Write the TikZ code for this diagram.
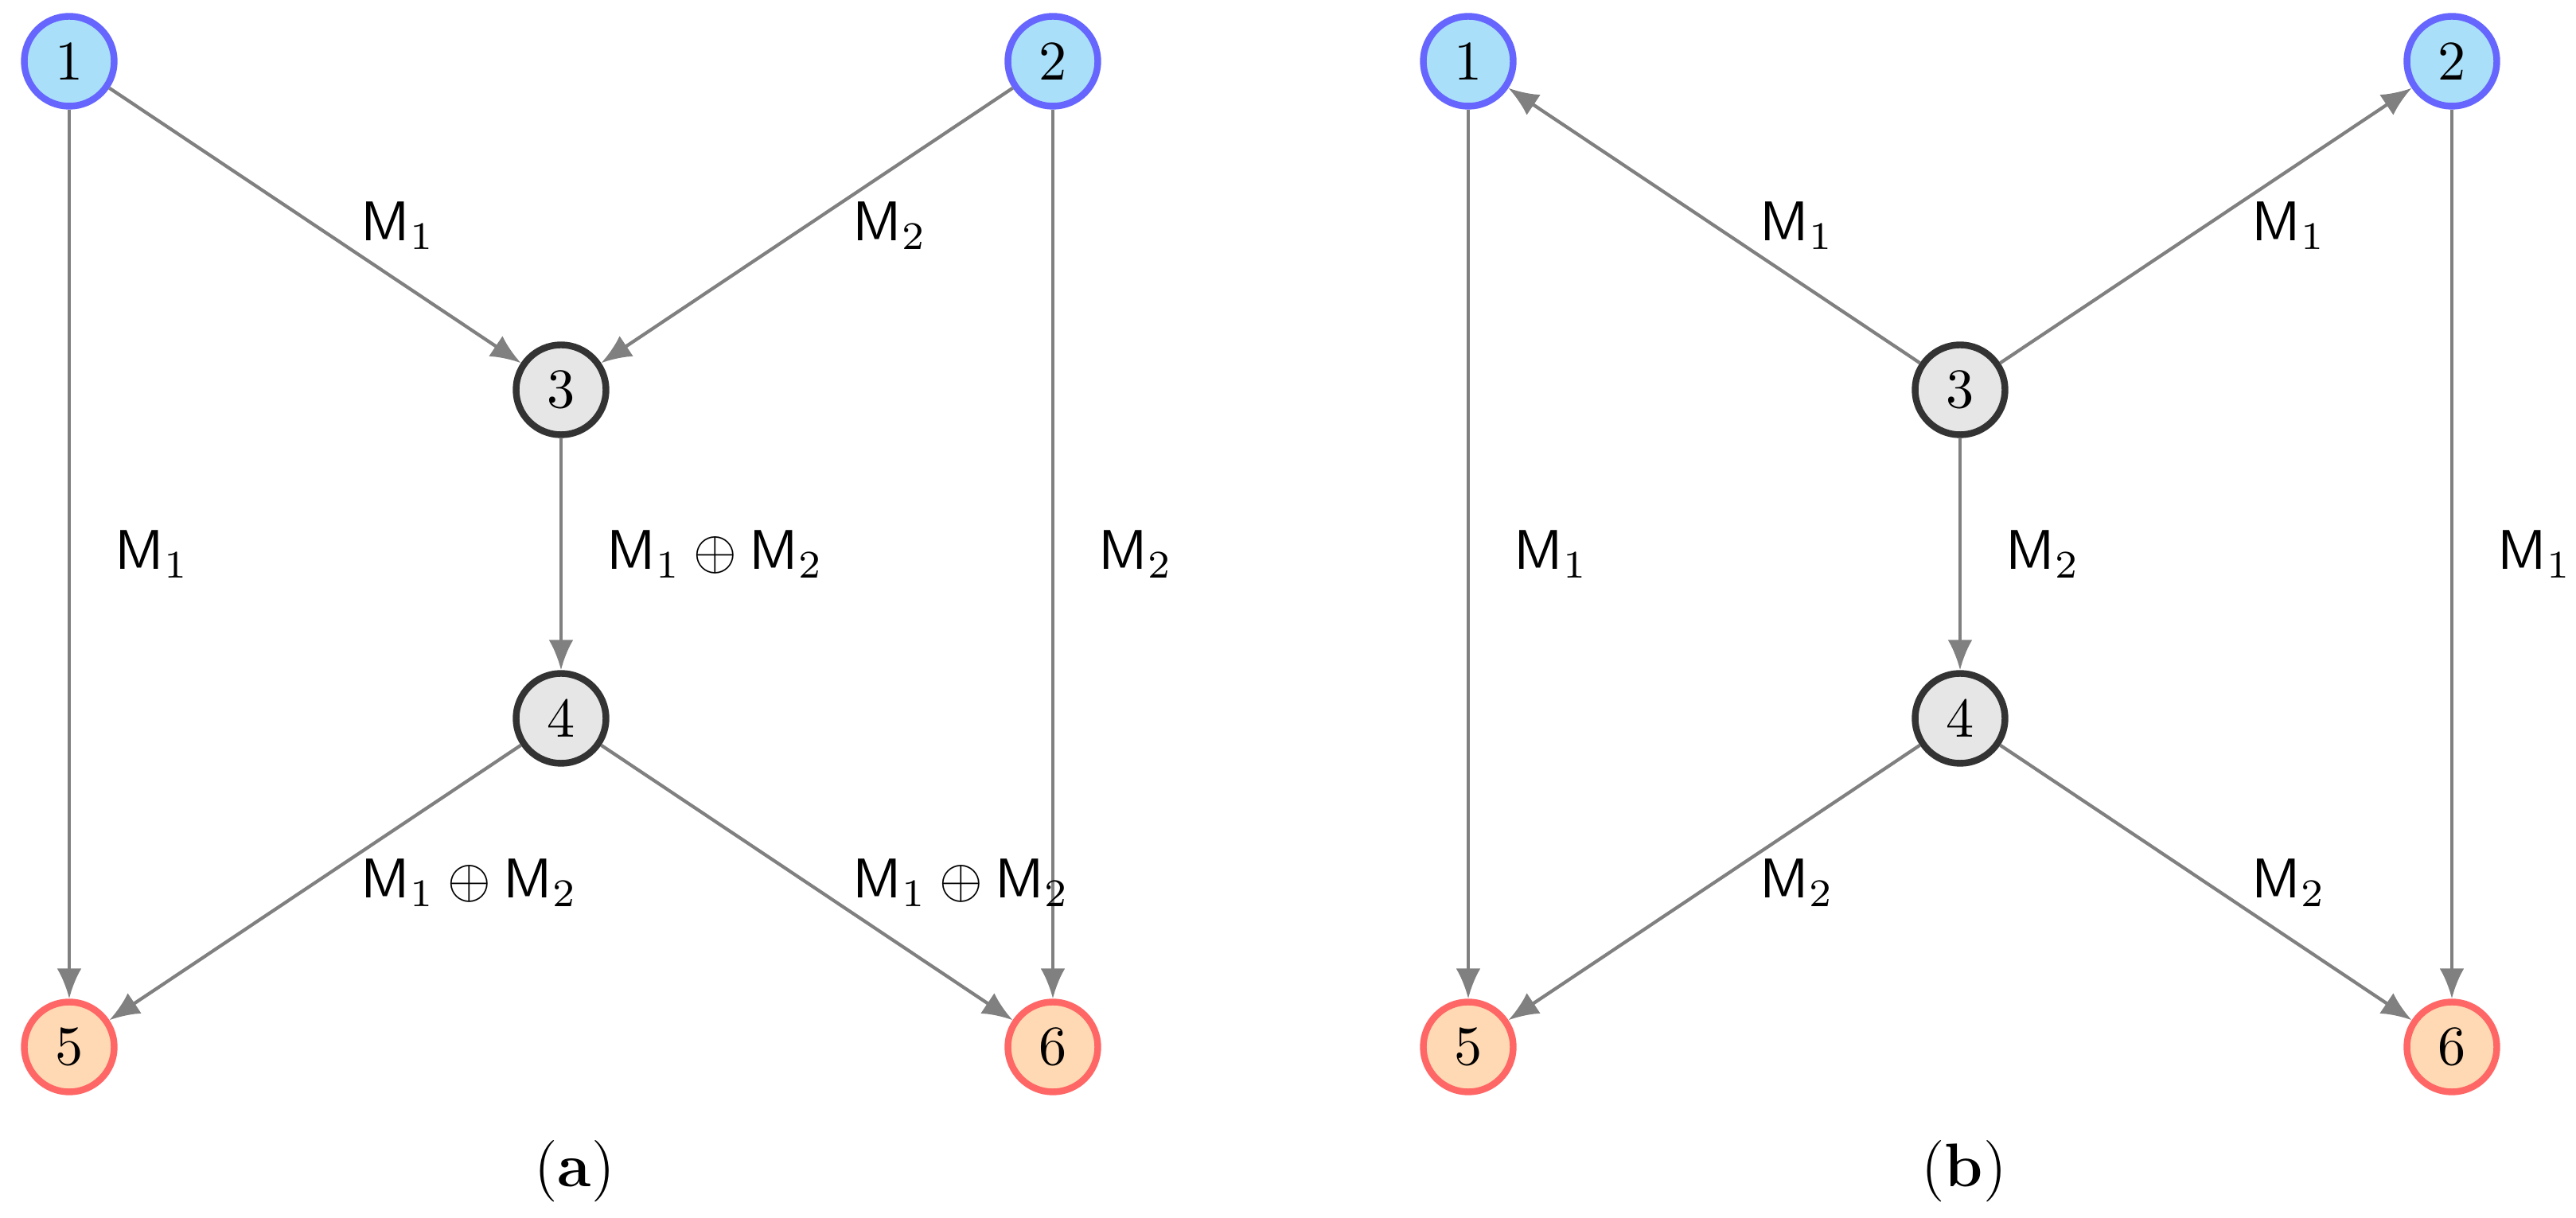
\documentclass[tikz,border=0pt]{standalone}
\usepackage{amsmath}
\usepackage{xcolor}
\usepackage{tikz}
\usetikzlibrary{arrows.meta}
\usetikzlibrary{positioning}
\definecolor{srcline}{HTML}{6666FF}
\definecolor{srcfill}{HTML}{AADFF9}
\definecolor{midline}{HTML}{333333}
\definecolor{midfill}{HTML}{E6E6E6}
\definecolor{dstline}{HTML}{FF6666}
\definecolor{dstfill}{HTML}{FFD9B3}
\definecolor{edgegray}{HTML}{808080}
\newcommand{\msgA}{\ensuremath{\mathsf{M}_1}}
\newcommand{\msgB}{\ensuremath{\mathsf{M}_2}}
\newcommand{\msgAB}{\ensuremath{\mathsf{M}_1\oplus\mathsf{M}_2}}
\begin{document}
\begin{tikzpicture}[
  dep/.style ={
    -{Latex[length=5.4pt,width=4.4pt]},draw=edgegray,line width=0.6pt
  },
  vtx/.style 2 args={
    circle,
    draw=#1,
    fill=#2,
    line width=1.2pt,
    minimum size=5.65mm,
    inner sep=0pt},
  lbl/.style={
    right=4.6pt,
    font=\normalsize},
  subcap/.style={
    font=\fontsize{11}{13}\selectfont},
]

  \def\colstep{3.09}%
  \def\rowstep{2.065}%
  \def\panelshift{8.79}%

  \useasboundingbox (-0.435,0.385) rectangle (15.75,-7.27);

    % Vertices of both panels
  \foreach \p/\sh in {a/0, b/\panelshift} {
    \node[vtx={srcline}{srcfill}] (\p1) at (\sh, 0) {1};
    \node[vtx={srcline}{srcfill}] (\p2) at (\sh+2*\colstep, 0) {2};
    \node[vtx={midline}{midfill}] (\p3) at (\sh+\colstep, -\rowstep) {3};
    \node[vtx={midline}{midfill}] (\p4) at (\sh+\colstep, -2*\rowstep) {4};
    \node[vtx={dstline}{dstfill}] (\p5) at (\sh, -3*\rowstep) {5};
    \node[vtx={dstline}{dstfill}] (\p6) at (\sh+2*\colstep, -3*\rowstep) {6};
  }

    % (a) edges
  \draw[dep] (a1) -- node[lbl] {\msgA} (a3);
  \draw[dep] (a2) -- node[lbl] {\msgB} (a3);
  \draw[dep] (a1) -- node[lbl] {\msgA} (a5);
  \draw[dep] (a2) -- node[lbl] {\msgB} (a6);
  \draw[dep] (a3) -- node[lbl] {\msgAB} (a4);
  \draw[dep] (a4) -- node[lbl] {\msgAB} (a5);
  \draw[dep] (a4) -- node[lbl] {\msgAB} (a6);

    % (b) edges
  \draw[dep] (b3) -- node[lbl] {\msgA} (b1);
  \draw[dep] (b3) -- node[lbl] {\msgA} (b2);
  \draw[dep] (b1) -- node[lbl] {\msgA} (b5);
  \draw[dep] (b2) -- node[lbl] {\msgA} (b6);
  \draw[dep] (b3) -- node[lbl] {\msgB} (b4);
  \draw[dep] (b4) -- node[lbl] {\msgB} (b5);
  \draw[dep] (b4) -- node[lbl] {\msgB} (b6);

    % Sub-captions
  \node[subcap] (capa) at (3.175, -6.975) {(\textbf{a})};
  \node[subcap] (capb) at (11.905, -6.975) {(\textbf{b})};

\end{tikzpicture}
\end{document}
